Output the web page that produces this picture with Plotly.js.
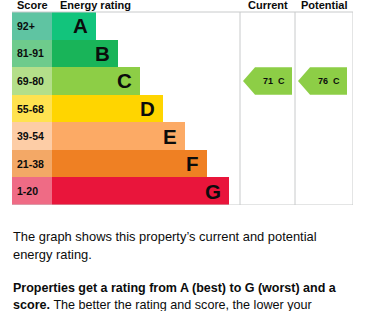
<!DOCTYPE html>
<html>
<head>
<meta charset="utf-8">
<script src="https://cdn.plot.ly/plotly-3.0.1.min.js"></script>
<style>
html,body{margin:0;padding:0;background:#fff;}
#chart{width:366px;height:311px;}
</style>
</head>
<body>
<div id="chart"></div>
<script>
// ---- data ----
const bands = ['A', 'B', 'C', 'D', 'E', 'F', 'G'];
const scoreRanges = ['92+', '81-91', '69-80', '55-68', '39-54', '21-38', '1-20'];
const bandMinScore = [92, 81, 69, 55, 39, 21, 1];
const barLength = [2, 3, 4, 5, 6, 7, 8];
const barColors = ['#12c47c', '#19b459', '#8dce46', '#ffd500', '#fcaa65', '#ef8023', '#e9153b'];
const scoreColors = ['#5fc4a2', '#6ecb8c', '#b4df8a', '#ffe250', '#fdcda6', '#f3a866', '#ef6b85'];
const columnHeaders = ['Score', 'Energy rating', 'Current', 'Potential'];
const currentScore = 71;
const potentialScore = 76;
const bodyLines = [
  'The graph shows this property\u2019s current and potential',
  'energy rating.',
  '<b>Properties get a rating from A (best) to G (worst) and a</b>',
  '<b>score.</b> The better the rating and score, the lower your'
];

// ---- layout constants ----
const PX = 22.1;                 // px per x unit
const X0 = -40 / PX;             // left edge (score column)
const X1 = 301 / PX;             // right edge
const CUR0 = 188 / PX, CUR1 = 243 / PX;  // current column
const POT0 = CUR1, POT1 = X1;            // potential column
const YTOP = -0.5 - 12 / 27.57;  // header
const ink = '#0b0c0c';
const grid = '#c8cacb';
const FONT = 'Liberation Sans, Arial, sans-serif';

function bandIndex(score) {
  for (let i = 0; i < bandMinScore.length; i++) if (score >= bandMinScore[i]) return i;
  return bandMinScore.length - 1;
}
const rows = bands.map((b, i) => i);

const traces = [];
// score cells
traces.push({
  type: 'bar', orientation: 'h', y: rows, x: rows.map(() => -X0), base: X0,
  width: 1, marker: {color: scoreColors, line: {width: 0}}, hoverinfo: 'skip'
});
// rating bars
traces.push({
  type: 'bar', orientation: 'h', y: rows, x: barLength, base: 0,
  width: 1, marker: {color: barColors, line: {width: 0}}, hoverinfo: 'skip'
});

const annotations = [];
const shapes = [];

// arrows
const arrowW = 49 / PX, tip = 12 / PX, inset = 3 / PX;
[[currentScore, CUR0], [potentialScore, POT0]].forEach(([score, colStart]) => {
  const i = bandIndex(score);
  const l = colStart + inset, r = l + arrowW;
  traces.push({
    type: 'scatter', mode: 'lines', fill: 'toself',
    x: [l, l + tip, r, r, l + tip, l],
    y: [i, i - 0.5, i - 0.5, i + 0.5, i + 0.5, i],
    line: {width: 0, color: barColors[i]}, fillcolor: barColors[i], hoverinfo: 'skip'
  });
  annotations.push({
    x: (l + tip + r) / 2, y: i, xref: 'x', yref: 'y', showarrow: false,
    text: '<b>' + score + '\u00a0 ' + bands[i] + '</b>',
    font: {family: FONT, size: 9, color: ink},
    xanchor: 'center', yanchor: 'middle'
  });
});

// band letters & score labels
bands.forEach((b, i) => {
  annotations.push({
    x: barLength[i], y: i, xref: 'x', yref: 'y', showarrow: false, text: '<b>' + b + '</b>',
    font: {family: FONT, size: 20.5, color: ink},
    xanchor: 'right', yanchor: 'middle', xshift: -6
  });
  annotations.push({
    x: X0, y: i, xref: 'x', yref: 'y', showarrow: false, text: '<b>' + scoreRanges[i] + '</b>',
    font: {family: FONT, size: 10.5, color: ink},
    xanchor: 'left', yanchor: 'middle', xshift: 2.7
  });
});

// headers
const hy = -0.5 - (12 - 5.3) / 27.57;
const headerPos = [[X0, 'left', 3.3], [0, 'left', 6], [(CUR0 + CUR1) / 2, 'center', 0], [(POT0 + POT1) / 2, 'center', 0]];
columnHeaders.forEach((h, k) => {
  annotations.push({
    x: headerPos[k][0], y: hy, xref: 'x', yref: 'y', showarrow: false, text: '<b>' + h + '</b>',
    font: {family: FONT, size: 11, color: ink},
    xanchor: headerPos[k][1], yanchor: 'middle', xshift: headerPos[k][2]
  });
});

// grid lines
shapes.push({type: 'line', xref: 'x', yref: 'y', x0: X0, x1: X1, y0: -0.5, y1: -0.5, line: {color: grid, width: 1}});
shapes.push({type: 'line', xref: 'x', yref: 'y', x0: X0, x1: X1, y0: 6.5, y1: 6.5, line: {color: grid, width: 1}});
[CUR0, CUR1, POT1].forEach(x => {
  shapes.push({type: 'line', xref: 'x', yref: 'y', x0: x, x1: x, y0: -0.5, y1: 6.5, line: {color: grid, width: 1}});
});

// body text
const bodyY = [236.5, 254.5, 288, 305];
const bodySize = [12.9, 12.9, 12.5, 12.6];
bodyLines.forEach((t, k) => {
  annotations.push({
    x: 0, y: (205 - bodyY[k]) / 205, xref: 'paper', yref: 'paper', showarrow: false, text: t,
    font: {family: FONT, size: bodySize[k], color: ink},
    xanchor: 'left', yanchor: 'middle', xshift: -1
  });
});

const layout = {
  width: 366, height: 311,
  margin: {l: 12, r: 13, t: 0, b: 106, pad: 0},
  paper_bgcolor: '#ffffff', plot_bgcolor: '#ffffff',
  showlegend: false, barmode: 'overlay', bargap: 0,
  xaxis: {range: [X0, X1], visible: false, fixedrange: true},
  yaxis: {range: [6.5, YTOP], visible: false, fixedrange: true},
  annotations: annotations, shapes: shapes
};
Plotly.newPlot('chart', traces, layout, {staticPlot: true, displayModeBar: false});
</script>
</body>
</html>
